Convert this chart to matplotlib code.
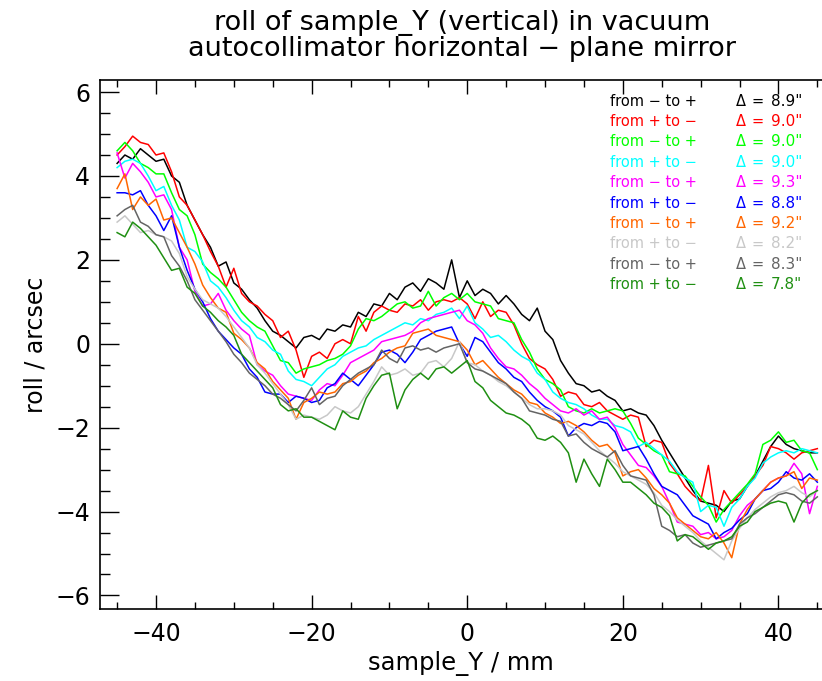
import numpy as np
import matplotlib.pyplot as plt
from matplotlib.ticker import MultipleLocator

# sample_Y positions in mm
sample_y = np.arange(-45, 46)

roll_a = [4.3, 4.5, 4.4, 4.65, 4.5, 4.35, 4.4, 4.0, 3.85, 3.3, 2.95, 2.6, 2.3, 1.85, 1.95, 1.45,
          1.3, 1.05, 0.85, 0.55, 0.3, 0.2, 0.05, -0.1, 0.15, 0.2, 0.1, 0.35, 0.3, 0.45, 0.4,
          0.75, 0.65, 0.95, 0.9, 1.2, 1.05, 1.35, 1.45, 1.25, 1.55, 1.45, 1.3, 2.0, 1.1, 1.5,
          1.15, 1.3, 1.2, 0.95, 1.15, 0.95, 0.7, 0.55, 0.85, 0.3, 0.1, -0.4, -0.7, -0.95, -1.0,
          -1.15, -1.1, -1.25, -1.35, -1.6, -1.55, -1.65, -1.7, -1.95, -2.3, -2.6, -2.9, -3.2,
          -3.5, -3.75, -3.8, -3.85, -4.0, -3.75, -3.7, -3.4, -3.15, -2.8, -2.45, -2.2, -2.4,
          -2.5, -2.55, -2.6, -2.6]
roll_b = [4.5, 4.7, 4.95, 4.8, 4.75, 4.5, 4.55, 4.1, 3.5, 3.3, 2.95, 2.6, 2.2, 1.85, 1.35, 1.8,
          1.2, 1.0, 0.9, 0.7, 0.55, 0.15, 0.3, -0.15, -0.8, -0.3, -0.2, -0.35, 0.0, 0.1, 0.0,
          0.65, 0.3, 0.75, 0.9, 0.8, 0.75, 0.95, 0.9, 1.05, 0.8, 1.0, 1.05, 1.0, 1.1, 0.95,
          0.6, 1.0, 0.65, 0.8, 0.75, 0.45, 0.0, -0.35, -0.5, -0.6, -0.85, -1.25, -1.15, -1.2,
          -1.45, -1.5, -1.4, -1.6, -1.7, -1.8, -1.7, -1.75, -2.45, -2.3, -2.35, -2.85, -3.1,
          -3.4, -3.6, -3.75, -2.9, -4.15, -3.5, -3.8, -3.6, -3.4, -3.15, -2.9, -2.45, -2.5,
          -2.6, -2.75, -2.6, -2.55, -2.5]
roll_c = [4.6, 4.8, 4.6, 4.3, 4.2, 4.05, 4.05, 3.6, 3.2, 3.05, 2.6, 1.9, 1.7, 1.55, 1.35, 1.05,
          0.75, 0.55, 0.4, 0.3, -0.05, -0.4, -0.45, -0.7, -0.6, -0.55, -0.5, -0.4, -0.35,
          -0.25, -0.05, 0.35, 0.6, 0.55, 0.65, 0.8, 0.95, 1.0, 0.85, 0.9, 1.25, 0.9, 1.1, 1.2,
          1.05, 1.2, 1.0, 0.95, 0.9, 0.6, 0.55, 0.5, 0.1, -0.2, -0.6, -0.85, -0.95, -1.1, -1.5,
          -1.6, -1.65, -1.55, -1.65, -1.6, -1.55, -1.6, -1.9, -2.25, -2.4, -2.55, -2.65, -3.05,
          -3.1, -3.15, -3.4, -3.65, -3.85, -4.25, -3.95, -3.75, -3.55, -3.35, -3.1, -2.4, -2.3,
          -2.1, -2.35, -2.3, -2.55, -2.6, -3.0]
roll_d = [4.2, 4.35, 4.4, 4.3, 4.0, 3.65, 3.75, 3.3, 2.95, 2.3, 2.2, 1.95, 1.5, 1.35, 1.1, 0.8,
          0.55, 0.4, 0.15, 0.05, -0.15, -0.25, -0.65, -0.85, -0.9, -1.0, -0.8, -0.6, -0.5,
          -0.3, -0.2, -0.1, -0.05, 0.1, 0.2, 0.3, 0.4, 0.5, 0.45, 0.6, 0.55, 0.7, 0.75, 0.85,
          0.6, 0.9, 0.5, 0.35, 0.15, 0.2, 0.05, -0.15, -0.3, -0.4, -0.7, -0.85, -1.15, -1.3,
          -1.4, -1.45, -1.55, -1.7, -1.8, -1.8, -1.95, -2.0, -2.1, -2.45, -2.35, -2.5, -2.65,
          -2.8, -3.05, -3.2, -3.3, -4.0, -3.85, -3.9, -4.35, -3.9, -3.7, -3.4, -3.2, -2.85,
          -2.7, -2.6, -2.55, -2.6, -2.5, -2.55, -2.6]
roll_e = [4.55, 3.95, 4.3, 4.1, 3.85, 3.5, 3.55, 3.2, 2.3, 2.0, 1.25, 0.9, 0.95, 1.2, 0.8, 0.55,
          0.35, 0.2, -0.5, -0.65, -0.75, -1.0, -1.2, -1.25, -1.3, -1.35, -1.1, -0.95, -1.0,
          -0.75, -0.45, -0.35, -0.25, -0.15, 0.05, 0.1, 0.15, 0.2, 0.3, 0.5, 0.6, 0.65, 0.7,
          0.75, 0.8, 0.55, 0.45, 0.25, -0.1, -0.35, -0.55, -0.6, -0.75, -0.95, -1.1, -1.3,
          -1.45, -1.6, -1.65, -1.55, -1.7, -1.6, -1.8, -1.75, -2.0, -2.4, -2.65, -2.9, -2.95,
          -3.15, -3.4, -3.8, -4.25, -4.3, -4.35, -4.55, -4.5, -4.65, -4.6, -4.45, -4.1, -3.85,
          -3.7, -3.5, -3.3, -3.2, -3.15, -2.85, -3.1, -4.05, -3.4]
roll_f = [3.6, 3.6, 3.55, 3.65, 3.3, 3.05, 2.7, 3.05, 2.3, 1.75, 1.3, 1.0, 0.6, 0.3, 0.1, -0.1,
          -0.25, -0.6, -0.8, -1.15, -1.2, -1.2, -1.4, -1.25, -1.3, -1.4, -1.35, -1.05, -0.95,
          -0.7, -0.85, -1.0, -0.75, -0.5, -0.2, -0.15, -0.25, -0.45, -0.2, 0.1, 0.2, 0.3,
          0.35, 0.4, 0.0, -0.3, 0.15, 0.05, -0.2, -0.45, -0.6, -0.8, -0.9, -1.15, -1.35,
          -1.5, -1.6, -1.75, -2.2, -2.0, -1.9, -1.95, -1.85, -1.9, -2.1, -2.55, -2.5, -2.45,
          -2.75, -3.1, -3.4, -3.5, -3.6, -3.85, -4.1, -4.2, -4.3, -4.65, -4.5, -4.4, -4.2,
          -4.05, -3.7, -3.5, -3.45, -3.3, -3.05, -3.2, -3.25, -3.1, -3.3]
roll_g = [3.7, 4.05, 3.2, 3.5, 3.3, 3.45, 2.95, 3.0, 2.65, 2.3, 1.9, 1.4, 1.1, 0.85, 0.75, 0.25,
          0.1, -0.1, -0.45, -0.6, -0.9, -1.1, -1.3, -1.8, -1.4, -1.3, -1.15, -1.2, -1.15,
          -0.95, -0.9, -0.75, -0.65, -0.45, -0.35, -0.2, -0.1, -0.05, 0.25, 0.3, 0.35, 0.2,
          0.15, 0.1, 0.05, -0.15, -0.5, -0.4, -0.6, -0.8, -0.95, -1.1, -1.2, -1.4, -1.45,
          -1.65, -1.75, -1.9, -1.85, -1.95, -2.1, -2.3, -2.45, -2.4, -2.6, -3.15, -3.05, -3.0,
          -3.2, -3.45, -3.6, -3.8, -4.15, -4.3, -4.45, -4.6, -4.65, -4.5, -4.75, -5.1, -4.3,
          -3.95, -3.7, -3.5, -3.3, -3.2, -3.15, -3.05, -3.45, -3.2, -3.25]
roll_h = [2.9, 3.05, 2.85, 2.65, 2.7, 2.6, 2.55, 2.45, 2.15, 1.6, 1.3, 1.05, 0.95, 0.85, 0.65,
          0.4, 0.15, -0.1, -0.5, -0.7, -0.95, -1.2, -1.45, -1.8, -1.7, -1.75, -1.8, -1.7,
          -1.5, -1.6, -1.65, -1.5, -1.2, -0.9, -0.55, -0.75, -0.7, -0.6, -0.75, -0.7, -0.45,
          -0.4, -0.55, -0.35, 0.05, -0.45, -0.5, -0.65, -0.75, -0.9, -1.0, -1.15, -1.3, -1.45,
          -1.55, -1.55, -1.6, -1.7, -1.95, -2.05, -2.15, -2.35, -2.55, -2.7, -2.85, -3.05,
          -3.15, -3.25, -3.35, -3.55, -3.85, -4.0, -4.2, -4.35, -4.5, -4.7, -4.85, -5.0, -5.15,
          -4.7, -4.4, -4.15, -3.95, -3.8, -3.65, -3.55, -3.5, -3.4, -3.55, -3.65, -3.5]
roll_i = [3.05, 3.2, 3.3, 2.9, 2.8, 2.6, 2.55, 2.1, 1.85, 1.5, 1.05, 0.8, 0.55, 0.3, 0.05,
          -0.25, -0.45, -0.7, -0.85, -1.0, -1.2, -1.3, -1.45, -1.6, -1.35, -1.05, -1.45, -1.3,
          -1.25, -1.0, -0.85, -0.7, -0.6, -0.5, -0.15, -0.35, -0.45, -0.1, -0.05, -0.15, -0.1,
          -0.2, -0.1, -0.05, 0.0, -0.45, -0.6, -0.65, -0.75, -0.85, -0.95, -1.15, -1.3, -1.6,
          -1.65, -1.7, -1.8, -1.85, -2.2, -2.15, -2.35, -2.5, -2.6, -2.7, -2.55, -2.9, -3.15,
          -3.2, -3.25, -3.6, -4.35, -4.45, -4.6, -4.55, -4.75, -4.85, -4.8, -4.75, -4.7, -4.65,
          -4.3, -4.15, -4.05, -3.9, -3.75, -3.6, -3.55, -3.6, -3.75, -3.8, -3.65]
roll_j = [2.65, 2.55, 2.9, 2.75, 2.55, 2.35, 2.05, 1.75, 1.8, 1.35, 1.2, 0.9, 0.75, 0.55, 0.4,
          0.2, -0.25, -0.45, -0.65, -0.85, -1.05, -1.45, -1.6, -1.55, -1.75, -1.75, -1.85,
          -1.95, -2.05, -1.6, -1.75, -1.8, -1.3, -1.0, -0.75, -0.7, -1.55, -1.1, -0.85, -0.7,
          -0.85, -0.6, -0.55, -0.7, -0.55, -0.4, -0.9, -1.05, -1.35, -1.5, -1.65, -1.7, -1.8,
          -1.95, -2.25, -2.3, -2.2, -2.35, -2.6, -3.3, -2.75, -3.1, -3.4, -2.75, -3.0, -3.3,
          -3.3, -3.45, -3.6, -3.8, -3.9, -4.1, -4.7, -4.55, -4.6, -4.75, -4.9, -4.75, -4.7,
          -4.6, -4.35, -4.25, -4.0, -3.9, -3.8, -3.75, -3.8, -4.25, -3.8, -3.6, -3.5]

series = [roll_a, roll_b, roll_c, roll_d, roll_e, roll_f, roll_g, roll_h, roll_i, roll_j]
colors = ["#000000", "#ff0000", "#00ff00", "#00ffff", "#ff00ff",
          "#0000ff", "#ff6600", "#c8c8c8", "#646464", "#1f8f12"]
directions = ["from \u2212 to +", "from + to \u2212"] * 5
deltas = ["8.9", "9.0", "9.0", "9.0", "9.3", "8.8", "9.2", "8.2", "8.3", "7.8"]

W, H = 822, 681
plt.rcParams['font.family'] = 'DejaVu Sans'
fig = plt.figure(figsize=(W / 100, H / 100), dpi=100)
ax = fig.add_axes([100 / W, 71.7 / H, (W - 100) / W, 529.8 / H])

for vals, col in zip(series, colors):
    ax.plot(sample_y, vals, color=col, lw=1.1)

ax.set_xlim(-47.2, 45.6)
ax.set_ylim(-6.33, 6.3)
ax.xaxis.set_major_locator(MultipleLocator(20))
ax.xaxis.set_minor_locator(MultipleLocator(5))
ax.yaxis.set_major_locator(MultipleLocator(2))
ax.yaxis.set_minor_locator(MultipleLocator(0.5))
ax.tick_params(which='both', direction='in', top=True, right=False, width=1.0, labelsize=17)
ax.tick_params(axis='x', which='major', length=10, pad=9)
ax.tick_params(axis='x', which='minor', length=5)
ax.tick_params(axis='y', which='major', length=14, pad=7)
ax.tick_params(axis='y', which='minor', length=7)
ax.spines['right'].set_visible(False)
for s in ['left', 'bottom', 'top']:
    ax.spines[s].set_linewidth(1.2)

ax.set_xlabel("sample_Y / mm", fontsize=17.5, labelpad=4)
ax.set_ylabel("roll / arcsec", fontsize=17, labelpad=6)
fig.text(462 / W, 1 - 36 / H, "roll of sample_Y (vertical) in vacuum\nautocollimator horizontal \u2212 plane mirror",
         ha='center', va='center', fontsize=19.5, linespacing=1.0)

# legend written as text, like xyouts
for i, (d, dv, col) in enumerate(zip(directions, deltas, colors)):
    yy = 1 - (101 + 20.4 * i) / H
    fig.text(610 / W, yy, d, color=col, fontsize=10.5, va='center')
    fig.text(736 / W, yy, "\u0394", color=col, fontsize=10.5, va='center')
    fig.text(758 / W, yy, "=", color=col, fontsize=10.5, va='center', ha='center')
    fig.text(771 / W, yy, dv + '"', color=col, fontsize=11, va='center')

fig.savefig("out.png", dpi=100)
